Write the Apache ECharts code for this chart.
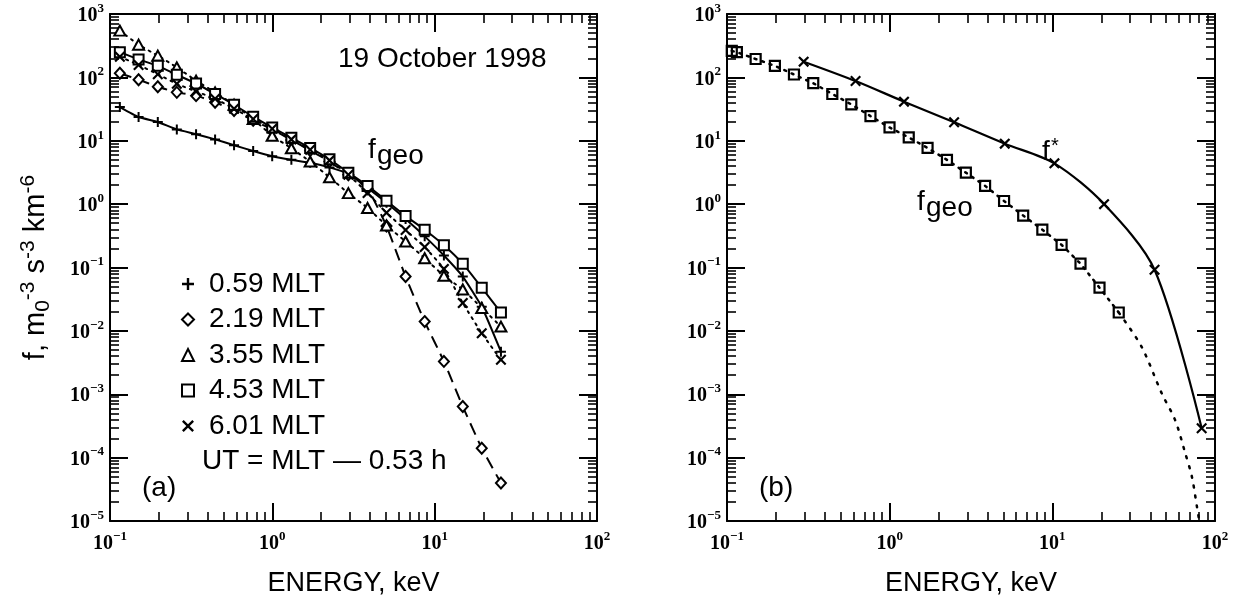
<!DOCTYPE html>
<html><head><meta charset="utf-8">
<script src="https://cdn.jsdelivr.net/npm/echarts@6/dist/echarts.min.js"></script>
<style>html,body{margin:0;padding:0;background:#fff}#c{width:1235px;height:604px}</style>
</head><body><div id="c"></div>
<script>
// ---------- data ----------
// Panel (a): energy channels, keV
const energy = [0.115,0.150,0.197,0.258,0.339,0.444,0.581,0.762,0.998,1.31,1.71,2.25,2.94,3.86,5.05,6.62,8.68,11.4,14.9,19.5,25.6];
const f059 = [34,23.7,19.8,15.1,12.7,10.5,8.5,6.9,5.7,5.0,4.5,3.8,3.0,1.8,1.05,0.58,0.31,0.155,0.072,0.024,0.0047];
const f219 = [116,92,71,58,51.5,40.5,30,21,15,10.3,7.0,4.7,2.9,1.75,0.45,0.072,0.014,0.0033,0.00064,0.000141,0.0000398];
const f355 = [546,328,220,144,88.7,58,37,22,12.0,7.6,4.7,2.65,1.49,0.87,0.46,0.257,0.14,0.074,0.045,0.023,0.0117];
const f453 = [250,192,152,110,80,54.7,37,24,16.2,11.2,7.7,5.1,3.14,1.94,1.13,0.65,0.395,0.225,0.115,0.048,0.0195];
const f601 = [212,157,112,79,60,46,32,22,15.5,10.5,7.2,4.9,2.9,1.5,0.73,0.39,0.21,0.095,0.0275,0.0092,0.0035];
const seriesNames = ['0.59 MLT','2.19 MLT','3.55 MLT','4.53 MLT','6.01 MLT'];

// Panel (b)
const bEnergy = [0.107,0.115,0.150,0.197,0.258,0.339,0.444,0.581,0.762,0.998,1.31,1.71,2.25,2.94,3.86,5.05,6.62,8.68,11.4,14.9,19.5,25.6];
const bFgeo = [262,250,195,152,111,81,54.7,37.5,24.5,16.2,11.3,7.7,5.0,3.14,1.94,1.12,0.66,0.395,0.228,0.115,0.048,0.0195];
const tailEnergy = [25.6,35.4,47,56.9,65.6,72.1,77.4,80,84];
const tailF = [0.0195,0.0056,0.00104,0.00039,0.000118,0.00005,0.000017,0.00001,0.000004];
const starEnergy = [0.296,0.617,1.225,2.49,5.1,10.3,20.8,42.5,82.8];
const fStar = [177,87.7,41.4,19.6,9.0,4.4,1.0,0.092,0.00029];

// tick labels
const xDecades = [0.1,1,10,100];
const yDecades = [1e-5,1e-4,1e-3,1e-2,1e-1,1,10,100,1000];

// ---------- helpers ----------
function minorTicks(lo, hi){ const out=[]; for(let e=lo;e<hi;e++){ for(let k=2;k<=9;k++) out.push(+(k*Math.pow(10,e)).toPrecision(4)); } return out; }
const xMinor = minorTicks(-1,2);
const yMinor = minorTicks(-5,3);
const zip = (a,b)=>a.map((v,i)=>[v,b[i]]);
const pow10 = v => { const e=Math.round(Math.log10(v)); return '{b|10}{s|' + (e<0?'\u2212'+(-e):e) + '}'; };
const richLab = {
  b:{fontFamily:'Liberation Serif',fontWeight:'bold',fontSize:20,lineHeight:24,color:'#000',verticalAlign:'bottom'},
  s:{fontFamily:'Liberation Serif',fontWeight:'bold',fontSize:13,lineHeight:13,color:'#000',verticalAlign:'top'}
};
const BLK = '#000';
const SANS = 'Liberation Sans';

function axesFor(dim, g, withName){
  const isX = dim==='x';
  const base = {type:'log', logBase:10, gridIndex:g, min:isX?0.1:1e-5, max:isX?100:1000,
    splitLine:{show:false}, axisLine:{show:true,onZero:false,lineStyle:{color:BLK,width:2}}};
  const maj = isX?xDecades:yDecades, mnr = isX?xMinor:yMinor;
  const p1 = isX?'bottom':'left', p2 = isX?'top':'right';
  const majTick = {show:true,inside:true,length:18,lineStyle:{color:BLK,width:2},customValues:maj};
  const minTick = {show:true,inside:true,length:9,lineStyle:{color:BLK,width:1.6},customValues:mnr};
  const main = Object.assign({}, base, {position:p1, axisTick:majTick,
    axisLabel:{show:true,customValues:maj,formatter:pow10,rich:richLab,margin:isX?9:6}});
  if (withName){
    if (isX){
      Object.assign(main,{name:'ENERGY, keV',nameLocation:'middle',nameGap:49,
        nameTextStyle:{fontFamily:SANS,fontSize:27,color:BLK}});
    } else {
      Object.assign(main,{name:'{t|f, m}{sub|0}{sup|-3}{t| s}{sup|-3}{t| km}{sup|-6}',nameLocation:'middle',nameRotate:90,nameGap:56,
        nameTextStyle:{rich:{
          t:{fontFamily:SANS,fontSize:29,lineHeight:36,color:BLK,verticalAlign:'middle'},
          sub:{fontFamily:SANS,fontSize:21,lineHeight:21,color:BLK,verticalAlign:'bottom'},
          sup:{fontFamily:SANS,fontSize:21,lineHeight:21,color:BLK,verticalAlign:'top'}}}});
    }
  }
  return [
    main,
    Object.assign({}, base, {position:p1, axisLine:{show:false}, axisTick:minTick, axisLabel:{show:false}}),
    Object.assign({}, base, {position:p2, axisTick:majTick, axisLabel:{show:false}}),
    Object.assign({}, base, {position:p2, axisLine:{show:false}, axisTick:minTick, axisLabel:{show:false}})
  ];
}

const plusPath = 'path://M4,0H6V4H10V6H6V10H4V6H0V4H4Z';
const crossPath = 'path://M1.4,0L5,3.6L8.6,0L10,1.4L6.4,5L10,8.6L8.6,10L5,6.4L1.4,10L0,8.6L3.6,5L0,1.4Z';

const openStyle = {color:'#fff',borderColor:BLK,borderWidth:2};
const seriesA = [
  {name:seriesNames[0], data:zip(energy,f059), symbol:plusPath, symbolSize:10, itemStyle:{color:BLK},
   lineStyle:{color:BLK,width:2}},
  {name:seriesNames[1], data:zip(energy,f219), symbol:'diamond', symbolSize:[10,11], itemStyle:openStyle,
   lineStyle:{color:BLK,width:2,type:[12,7]}},
  {name:seriesNames[2], data:zip(energy,f355), symbol:'triangle', symbolSize:[11,10], itemStyle:openStyle,
   lineStyle:{color:BLK,width:2,type:[2,5],cap:'round'}},
  {name:seriesNames[3], data:zip(energy,f453), symbol:'rect', symbolSize:10, itemStyle:openStyle,
   lineStyle:{color:BLK,width:2}},
  {name:seriesNames[4], data:zip(energy,f601), symbol:crossPath, symbolSize:11, itemStyle:{color:BLK},
   lineStyle:{color:BLK,width:2,type:[2,5],cap:'round'}}
].map(s=>Object.assign({type:'line',xAxisIndex:0,yAxisIndex:0,showSymbol:true,smooth:0.15,animation:false,emphasis:{disabled:true}},s));

const seriesB = [
  {name:'fgeo', data:zip(bEnergy,bFgeo), symbol:'rect', symbolSize:10,
   itemStyle:{color:'rgba(255,255,255,0)',borderColor:BLK,borderWidth:2.2},
   lineStyle:{color:BLK,width:2.5,type:[2,6],cap:'round'}},
  {name:'fgeo tail', data:zip(tailEnergy,tailF), showSymbol:false, symbol:'none', smooth:0.3,
   lineStyle:{color:BLK,width:2.5,type:[2,8],cap:'round'}},
  {name:'f*', data:zip(starEnergy,fStar), symbol:crossPath, symbolSize:11, smooth:0.3, itemStyle:{color:BLK},
   lineStyle:{color:BLK,width:2.2}}
].map(s=>Object.assign({type:'line',xAxisIndex:4,yAxisIndex:4,animation:false,emphasis:{disabled:true}},s));

const legendItems = [
  {name:seriesNames[0], icon:plusPath, itemStyle:{color:BLK,borderWidth:0}},
  {name:seriesNames[1], icon:'diamond', itemStyle:{color:'#fff',borderColor:BLK,borderWidth:2}},
  {name:seriesNames[2], icon:'triangle', itemStyle:{color:'#fff',borderColor:BLK,borderWidth:2}},
  {name:seriesNames[3], icon:'rect', itemStyle:{color:'#fff',borderColor:BLK,borderWidth:2}},
  {name:seriesNames[4], icon:crossPath, itemStyle:{color:BLK,borderWidth:0}}
];

const txt = (left, top, text, size) => ({type:'text', left, top, z:100,
  style:{text, fill:BLK, font: size+'px "Liberation Sans"'}});

const option = {
  animation:false,
  backgroundColor:'#fff',
  grid:[
    {left:110, top:14, width:487, height:507},
    {left:727, top:14, width:488, height:507}
  ],
  xAxis:[...axesFor('x',0,true), ...axesFor('x',1,true)],
  yAxis:[...axesFor('y',0,true), ...axesFor('y',1,false)],
  legend:{orient:'vertical', left:176, top:265, itemWidth:12, itemHeight:12, itemGap:7.5,
    selectedMode:false, textStyle:{fontFamily:SANS,fontSize:28,lineHeight:28,color:BLK,padding:[0,0,0,10]}, data:legendItems},
  graphic:[
    txt(338,45,'19 October 1998',28),
    txt(202,447,'UT = MLT \u2014 0.53 h',28),
    txt(142,474,'(a)',28),
    txt(759,474,'(b)',28),
    txt(368,136,'f',28), txt(377,142,'geo',28),
    txt(917,188,'f',28), txt(926,194,'geo',28),
    txt(1042,138,'f',28), txt(1051,136,'*',20)
  ],
  series:[...seriesA, ...seriesB]
};
const chart = echarts.init(document.getElementById('c'), null, {renderer:'canvas'});
chart.setOption(option);
</script></body></html>
